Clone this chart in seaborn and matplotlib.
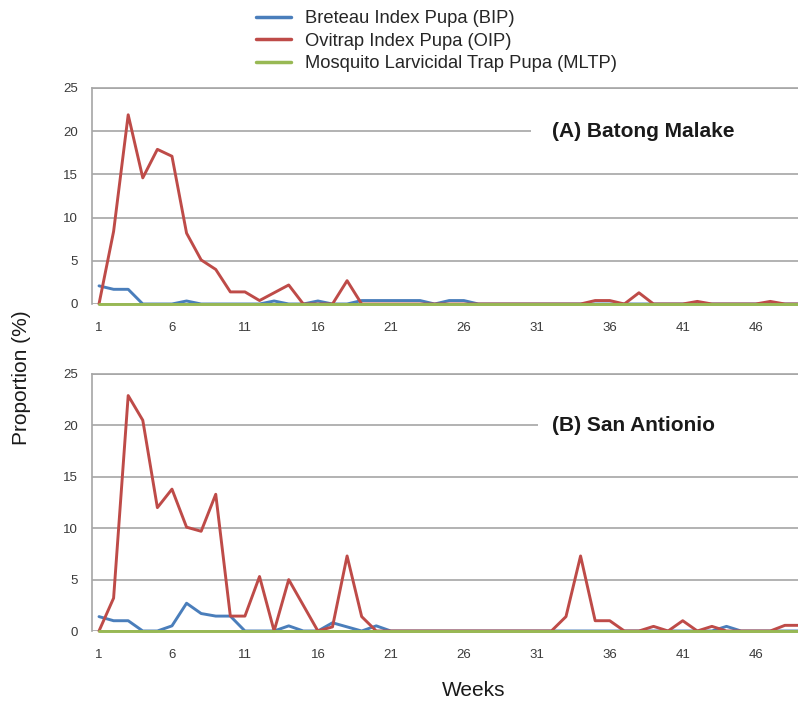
import numpy as np
import pandas as pd
import matplotlib
matplotlib.use("Agg")
import matplotlib.pyplot as plt
import matplotlib.transforms as mtransforms
from matplotlib.patches import Rectangle
from matplotlib.lines import Line2D
import seaborn as sns

weeks = list(range(1, 50))

series_names = ["Breteau Index Pupa (BIP)", "Ovitrap Index Pupa (OIP)",
                "Mosquito Larvicidal Trap Pupa (MLTP)"]
colors = ["#4A7EBB", "#BE4B48", "#98B954"]

# (A) Batong Malake
a_bip = [2.1, 1.7, 1.7, 0, 0, 0, 0.35, 0, 0, 0,
         0, 0, 0.35, 0, 0, 0.35, 0, 0, 0.4, 0.4,
         0.4, 0.4, 0.4, 0, 0.4, 0.4, 0, 0, 0, 0,
         0, 0, 0, 0, 0, 0, 0, 0, 0, 0,
         0, 0, 0, 0, 0, 0, 0, 0, 0]
a_oip = [0, 8.4, 21.9, 14.6, 17.9, 17.1, 8.2, 5.1, 4.0, 1.4,
         1.4, 0.4, 1.3, 2.2, 0, 0, 0, 2.7, 0, 0,
         0, 0, 0, 0, 0, 0, 0, 0, 0, 0,
         0, 0, 0, 0, 0.4, 0.4, 0, 1.3, 0, 0,
         0, 0.3, 0, 0, 0, 0, 0.3, 0, 0]
a_mltp = [0] * 49

# (B) San Antionio
b_bip = [1.4, 1.0, 1.0, 0, 0, 0.5, 2.7, 1.7, 1.45, 1.45,
         0, 0, 0, 0.5, 0, 0, 0.8, 0.4, 0, 0.5,
         0, 0, 0, 0, 0, 0, 0, 0, 0, 0,
         0, 0, 0, 0, 0, 0, 0, 0, 0, 0,
         0, 0, 0, 0.45, 0, 0, 0, 0, 0]
b_oip = [0, 3.2, 22.9, 20.5, 12.0, 13.8, 10.1, 9.7, 13.3, 1.45,
         1.45, 5.3, 0, 5.0, 2.5, 0, 0.4, 7.3, 1.4, 0,
         0, 0, 0, 0, 0, 0, 0, 0, 0, 0,
         0, 0, 1.4, 7.3, 1.0, 1.0, 0, 0, 0.45, 0,
         1.0, 0, 0.45, 0, 0, 0, 0, 0.55, 0.55]
b_mltp = [0] * 49

panel_titles = ["(A) Batong Malake", "(B) San Antionio"]
xtick_weeks = [1, 6, 11, 16, 21, 26, 31, 36, 41, 46]
yticks = [0, 5, 10, 15, 20, 25]


def make_df(bip, oip, mltp):
    frames = []
    for name, vals in zip(series_names, [bip, oip, mltp]):
        frames.append(pd.DataFrame({"Week": weeks, "Value": vals, "Series": name}))
    return pd.concat(frames, ignore_index=True)


sns.set_theme(style="white")
plt.rcParams["font.family"] = ["Liberation Sans", "DejaVu Sans"]

W, H = 798, 702
fig = plt.figure(figsize=(W / 100, H / 100), dpi=100)


def px_axes(left, top, right, bottom):
    return fig.add_axes([left / W, 1 - bottom / H, (right - left) / W, (bottom - top) / H])


ax_a = px_axes(92, 88, 798, 304)
ax_b = px_axes(92, 374, 798, 631)

palette = dict(zip(series_names, colors))
grid_col = "#A6A6A6"
label_col = "#3A3A3A"

for ax, data, title, gap_left in [
        (ax_a, make_df(a_bip, a_oip, a_mltp), panel_titles[0], 0.622),
        (ax_b, make_df(b_bip, b_oip, b_mltp), panel_titles[1], 0.632)]:
    sns.lineplot(data=data, x="Week", y="Value", hue="Series", palette=palette,
                 hue_order=series_names, linewidth=2.1, ax=ax, legend=False,
                 solid_capstyle="round", solid_joinstyle="round")
    for ln in ax.get_lines():
        ln.set_clip_on(False)
        ln.set_zorder(4)
    ax.set_xlim(0.52, 48.9)
    ax.set_ylim(0, 25)
    ax.set_yticks(yticks)
    ax.set_xticks(xtick_weeks)
    ax.set_xlabel("")
    ax.set_ylabel("")
    ax.yaxis.grid(True, color=grid_col, linewidth=1.2, zorder=0)
    ax.set_axisbelow(True)
    for s in ["right", "bottom"]:
        ax.spines[s].set_visible(False)
    for s in ["left", "top"]:
        ax.spines[s].set_color(grid_col)
        ax.spines[s].set_linewidth(1.2)
    ax.tick_params(axis="both", length=0, labelsize=9.5, colors=label_col)
    ax.tick_params(axis="x", pad=13)
    ax.tick_params(axis="y", pad=10)
    trans = mtransforms.blended_transform_factory(ax.transAxes, ax.transData)
    ax.add_patch(Rectangle((gap_left, 17.5), 1 - gap_left, 5, transform=trans,
                           facecolor="white", edgecolor="none", zorder=1))
    ax.text(0.652, 20, title, transform=trans, fontsize=15, fontweight="bold",
            color="#1A1A1A", va="center", ha="left", zorder=3)

handles = [Line2D([0], [0], color=c, linewidth=2.5) for c in colors]
fig.legend(handles, series_names, loc="upper left", bbox_to_anchor=(256 / W, 1 - 10 / H),
           frameon=False, fontsize=13.2, handlelength=1.9, handletextpad=0.75,
           labelspacing=0.3, borderpad=0, borderaxespad=0)

fig.text(22 / W, 1 - 378 / H, "Proportion (%)", rotation=90, fontsize=15,
         va="center", ha="center", color="#1A1A1A")
fig.text(474 / W, 1 - 690 / H, "Weeks", fontsize=15, va="center", ha="center",
         color="#1A1A1A")

fig.savefig("out.png", dpi=100)
